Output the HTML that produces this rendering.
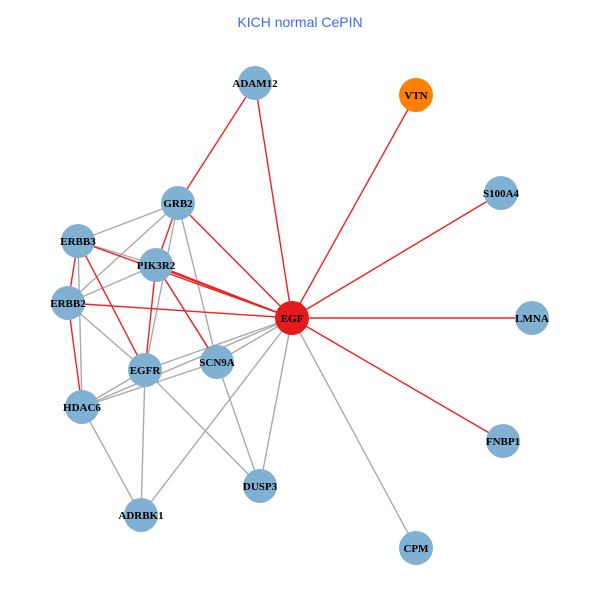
<!DOCTYPE html>
<html><head><meta charset="utf-8"><style>body{margin:0;background:#fff}</style></head><body>
<svg width="600" height="600" xmlns="http://www.w3.org/2000/svg" font-family="Liberation Serif, serif">
<rect width="600" height="600" fill="#fff"/>
<text x="300" y="27" text-anchor="middle" font-family="Liberation Sans, sans-serif" font-size="14" fill="#3a6cf0">KICH normal CePIN</text>
<g stroke="#aaaaaa" stroke-width="1.4">
<line x1="178" y1="203" x2="78" y2="241"/>
<line x1="178" y1="203" x2="68" y2="303"/>
<line x1="178" y1="203" x2="145" y2="370"/>
<line x1="178" y1="203" x2="217" y2="362"/>
<line x1="156" y1="265" x2="68" y2="303"/>
<line x1="78" y1="241" x2="156" y2="265"/>
<line x1="78" y1="241" x2="82" y2="407"/>
<line x1="68" y1="303" x2="145" y2="370"/>
<line x1="145" y1="370" x2="292" y2="318"/>
<line x1="82" y1="407" x2="292" y2="318"/>
<line x1="82" y1="407" x2="217" y2="362"/>
<line x1="82" y1="407" x2="145" y2="370"/>
<line x1="82" y1="407" x2="141" y2="515"/>
<line x1="145" y1="370" x2="141" y2="515"/>
<line x1="145" y1="370" x2="260" y2="486"/>
<line x1="217" y1="362" x2="260" y2="486"/>
<line x1="217" y1="362" x2="292" y2="318"/>
<line x1="292" y1="318" x2="260" y2="486"/>
<line x1="292" y1="318" x2="141" y2="515"/>
<line x1="292" y1="318" x2="416" y2="548"/>
<line x1="156" y1="265" x2="217" y2="362"/>
</g>
<g stroke="#f02020" stroke-width="1.4">
<line x1="255" y1="83" x2="178" y2="203"/>
<line x1="255" y1="83" x2="292" y2="318"/>
<line x1="416" y1="95" x2="292" y2="318"/>
<line x1="501" y1="193" x2="292" y2="318"/>
<line x1="532" y1="318" x2="292" y2="318"/>
<line x1="503" y1="441" x2="292" y2="318"/>
<line x1="178" y1="203" x2="292" y2="318"/>
<line x1="178" y1="203" x2="156" y2="265"/>
<line x1="78" y1="241" x2="292" y2="318"/>
<line x1="156" y1="265" x2="292" y2="318"/>
<line x1="160" y1="268" x2="292" y2="318"/>
<line x1="68" y1="303" x2="292" y2="318"/>
<line x1="78" y1="241" x2="68" y2="303"/>
<line x1="68" y1="303" x2="82" y2="407"/>
<line x1="78" y1="241" x2="145" y2="370"/>
<line x1="156" y1="265" x2="145" y2="370"/>
<line x1="156" y1="265" x2="217" y2="362"/>
</g>
<g fill="#80b1d3">
<circle cx="255" cy="83" r="17"/>
<circle cx="501" cy="193" r="17"/>
<circle cx="178" cy="203" r="17"/>
<circle cx="78" cy="241" r="17"/>
<circle cx="156" cy="265" r="17"/>
<circle cx="68" cy="303" r="17"/>
<circle cx="532" cy="318" r="17"/>
<circle cx="145" cy="370" r="17"/>
<circle cx="217" cy="362" r="17"/>
<circle cx="82" cy="407" r="17"/>
<circle cx="503" cy="441" r="17"/>
<circle cx="260" cy="486" r="17"/>
<circle cx="141" cy="515" r="17"/>
<circle cx="416" cy="548" r="17"/>
</g>
<circle cx="416" cy="95" r="17" fill="#ff7f00"/>
<circle cx="292" cy="318" r="17" fill="#e41a1c"/>
<g font-size="11" font-weight="bold" fill="#000" text-anchor="middle">
<text x="255" y="87">ADAM12</text>
<text x="416" y="99">VTN</text>
<text x="501" y="197">S100A4</text>
<text x="178" y="207">GRB2</text>
<text x="78" y="245">ERBB3</text>
<text x="156" y="269">PIK3R2</text>
<text x="68" y="307">ERBB2</text>
<text x="292" y="322">EGF</text>
<text x="532" y="322">LMNA</text>
<text x="145" y="374">EGFR</text>
<text x="217" y="366">SCN9A</text>
<text x="82" y="411">HDAC6</text>
<text x="503" y="445">FNBP1</text>
<text x="260" y="490">DUSP3</text>
<text x="141" y="519">ADRBK1</text>
<text x="416" y="552">CPM</text>
</g>
</svg>
</body></html>
